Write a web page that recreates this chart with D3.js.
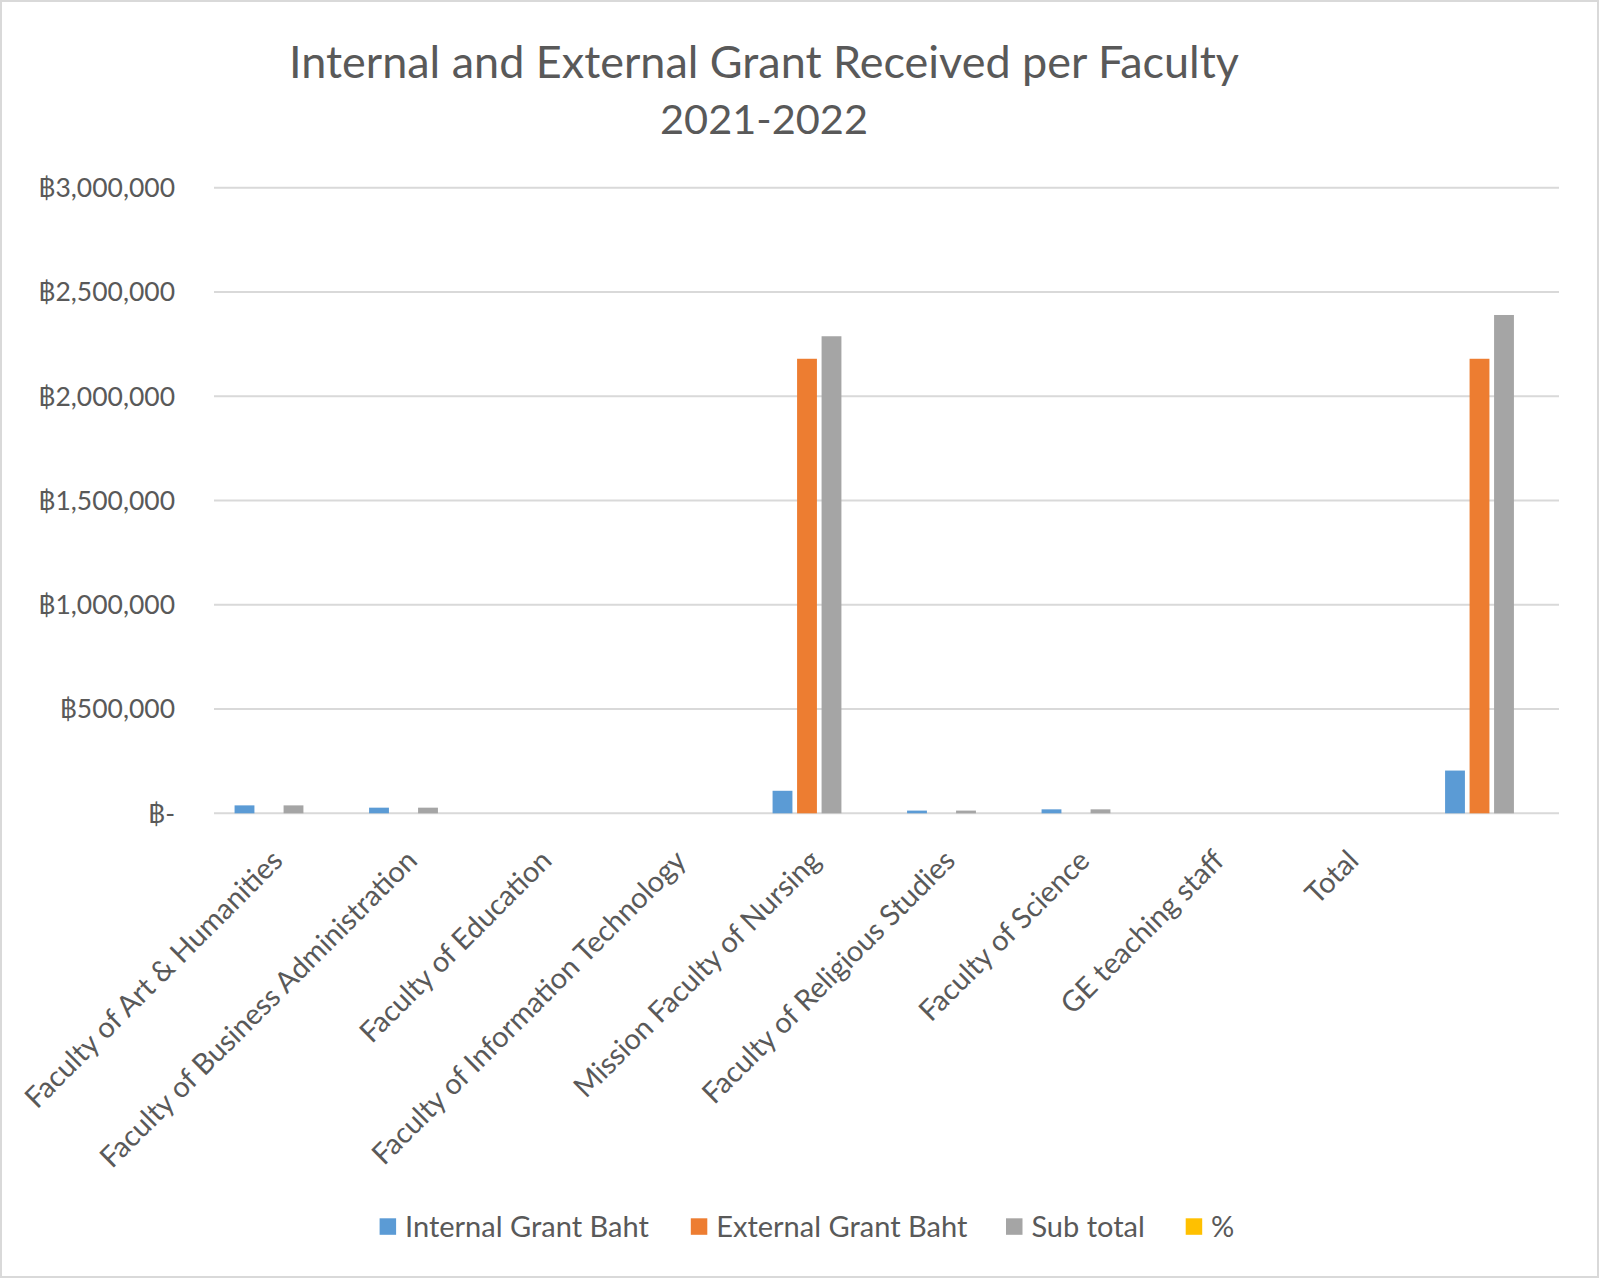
<!DOCTYPE html>
<html><head><meta charset="utf-8">
<script src="https://cdn.jsdelivr.net/npm/d3@7"></script>
<style>body{margin:0;background:#fff}svg{display:block}</style>
</head><body>
<svg id="c" width="1600" height="1279"></svg>
<script>
const categories = ["Faculty of Art & Humanities","Faculty of Business Administration","Faculty of Education","Faculty of Information Technology","Mission Faculty of Nursing","Faculty of Religious Studies","Faculty of Science","GE teaching staff","Total",""];
const seriesNames = ["Internal Grant Baht","External Grant Baht","Sub total","%"];
const internalGrant = [38000,27000,0,0,108000,13000,19000,0,0,205000];
const externalGrant = [0,0,0,0,2180000,0,0,0,0,2180000];
const subTotal = [38000,27000,0,0,2288000,13000,19000,0,0,2390000];
const percent = [0.016,0.011,0,0,0.957,0.005,0.008,0,0,1];
const yTicks = [0,500000,1000000,1500000,2000000,2500000,3000000];
const titleLines = ["Internal and External Grant Received per Faculty","2021-2022"];
const colors = ["#5B9BD5","#ED7D31","#A5A5A5","#FFC000"];

const series = [internalGrant, externalGrant, subTotal, percent];
const svg = d3.select("#c");
const FONT = "Lato, 'Open Sans', sans-serif";
const TXT = "#595959";

// border
svg.append("rect").attr("x",1).attr("y",1).attr("width",1597).attr("height",1276)
  .attr("fill","#fff").attr("stroke","#D9D9D9").attr("stroke-width",2);

const L=214, R=1559, T=187.8, B=813.3;
const x0 = d3.scaleBand().domain(d3.range(categories.length)).range([L,R]).paddingInner(0).paddingOuter(0);
const x1 = d3.scaleBand().domain(d3.range(seriesNames.length)).range([0,x0.bandwidth()]).paddingInner(0.19).paddingOuter(0.84);
const y = d3.scaleLinear().domain([0,3000000]).range([B,T]);

function fitGroup(sel, refNode, target){
  const w = refNode.getComputedTextLength();
  const fs = parseFloat(d3.select(refNode).attr("font-size"));
  sel.attr("font-size", fs*target/w);
}

// gridlines
const grid = svg.append("g");
grid.selectAll("line").data(yTicks).join("line")
  .attr("x1",L).attr("x2",R).attr("y1",d=>y(d)).attr("y2",d=>y(d))
  .attr("stroke","#D9D9D9").attr("stroke-width",2);

// y labels
const fmt = d3.format(",");
const yl = svg.append("g").selectAll("text").data(yTicks).join("text")
  .attr("x",175).attr("y",d=>y(d)).attr("dy","0.35em").attr("text-anchor","end")
  .attr("font-family",FONT).attr("font-size",26).attr("fill",TXT)
  .text(d=> d===0 ? "\u0E3F-" : "\u0E3F"+fmt(d));
fitGroup(yl, yl.nodes()[6], 137);

// bars
const g = svg.append("g");
categories.forEach((c,i)=>{
  series.forEach((s,j)=>{
    const v = s[i];
    g.append("rect").attr("x",x0(i)+x1(j)).attr("width",x1.bandwidth())
      .attr("y",y(v)).attr("height",B-y(v)).attr("fill",colors[j]);
  });
});

// x labels
const xl = svg.append("g").selectAll("text").data(categories).join("text")
  .attr("text-anchor","end").attr("font-family",FONT).attr("font-size",26).attr("fill",TXT)
  .attr("transform",(d,i)=>`translate(${x0(i)+x0.bandwidth()/2-4},${B+42}) rotate(-45)`)
  .attr("dy","0.35em").text(d=>d);
fitGroup(xl, xl.nodes()[0], 350);

// title
const tt = svg.append("g").selectAll("text").data(titleLines).join("text")
  .attr("x",764).attr("y",(d,i)=>77.5+i*56.2).attr("text-anchor","middle")
  .attr("font-family",FONT).attr("font-size",40).attr("fill",TXT).text(d=>d);
fitGroup(d3.select(tt.nodes()[0]), tt.nodes()[0], 950);
fitGroup(d3.select(tt.nodes()[1]), tt.nodes()[1], 208);

// legend
const legX = [379.6, 690.8, 1006, 1185.7];
const lg = svg.append("g");
seriesNames.forEach((n,j)=>{
  lg.append("rect").attr("x",legX[j]).attr("y",1226.5-8.2).attr("width",16.5).attr("height",16.5).attr("fill",colors[j]);
});
const lt = lg.selectAll("text").data(seriesNames).join("text")
  .attr("x",(d,j)=>legX[j]+25.4).attr("y",1226.5).attr("dy","0.35em")
  .attr("font-family",FONT).attr("font-size",26).attr("fill",TXT).text(d=>d);
fitGroup(lt, lt.nodes()[0], 244);
</script>
</body></html>
